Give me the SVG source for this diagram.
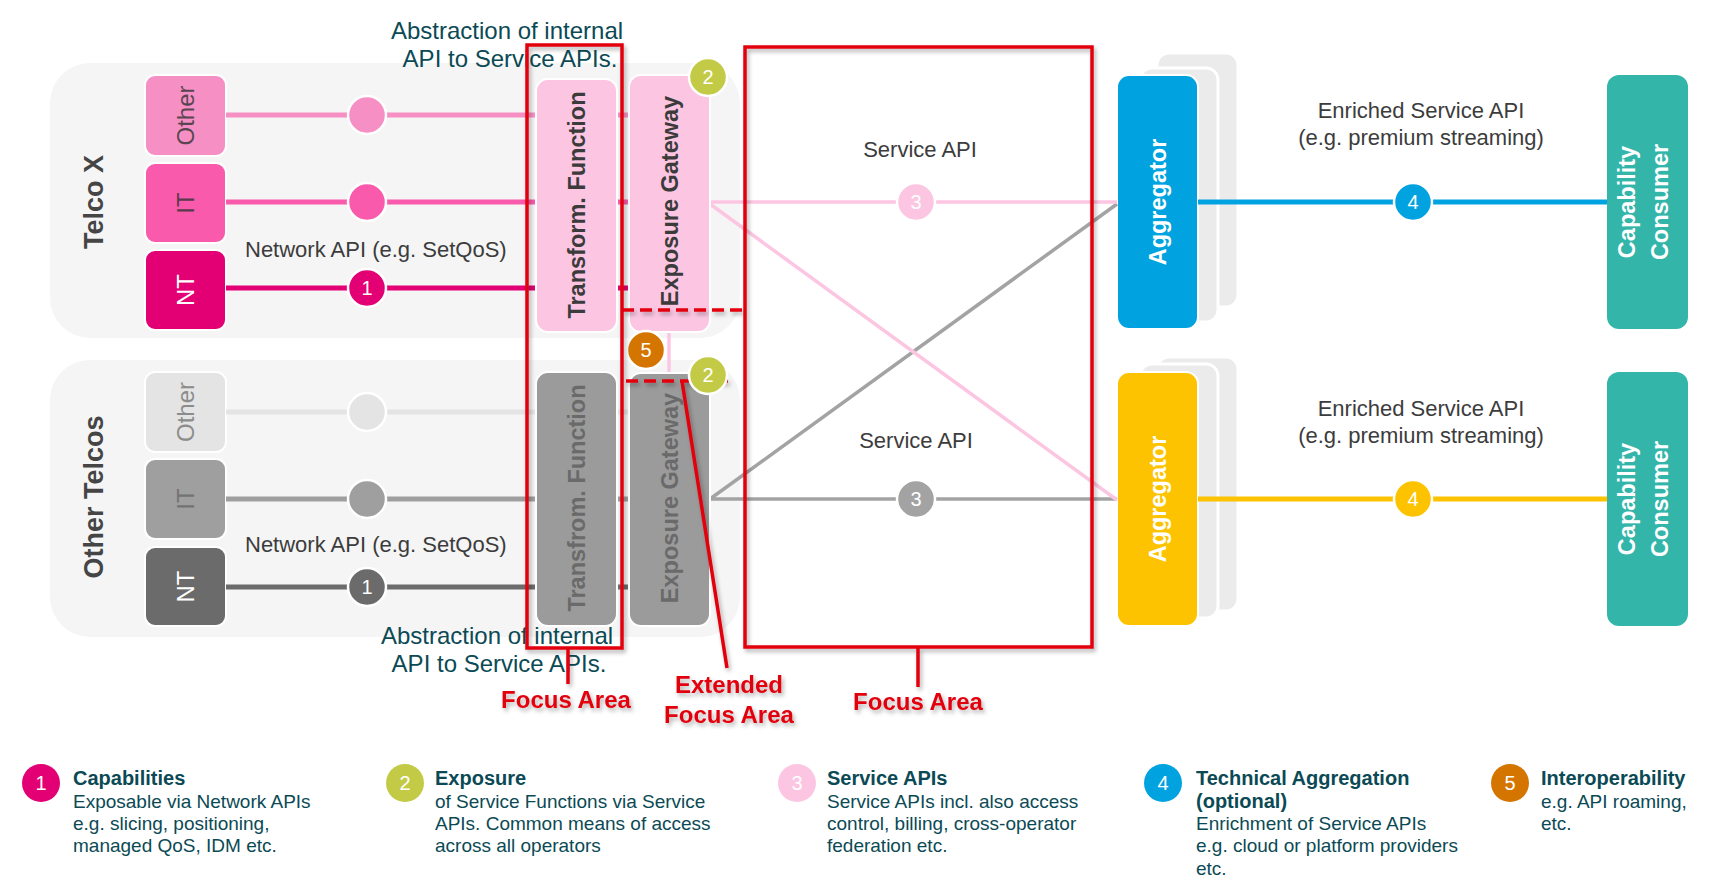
<svg xmlns="http://www.w3.org/2000/svg" width="1717" height="896" viewBox="0 0 1717 896">
<defs>
<style>
text{font-family:"Liberation Sans",Arial,sans-serif}
.panel{fill:#f5f5f5}
.box{stroke:#fff;stroke-width:2}
.lbl{font-size:24px;text-anchor:middle}
.vb{font-size:23.5px;font-weight:bold;text-anchor:middle}
.grp{font-size:27px;font-weight:bold;fill:#454545;text-anchor:middle}
.num{font-size:20px;fill:#fff;text-anchor:middle}
.cap{font-size:22px;fill:#3c3c3c}
.mid{text-anchor:middle}
.teal{font-size:24px;fill:#0b4a55;text-anchor:middle}
.red{stroke:#e3000f;stroke-width:3.5;fill:none}
.dash{stroke-dasharray:12 6}
.redt{font-size:24px;font-weight:bold;fill:#e3000f;text-anchor:middle}
.ln{stroke-width:5;fill:none}
.thin{stroke-width:3.5;fill:none}
.dot{stroke:#fff;stroke-width:2.5}
.card{fill:#ebebeb;stroke:#fff;stroke-width:3}
.lt{font-size:20px;font-weight:bold;fill:#0b4a55}
.lb{font-size:19px;fill:#0b4a55}
</style>
<filter id="sh" filterUnits="userSpaceOnUse" x="0" y="0" width="1717" height="896">
<feDropShadow dx="2" dy="3" stdDeviation="2" flood-color="#000" flood-opacity="0.3"/>
</filter>
</defs>
<rect width="1717" height="896" fill="#fff"/>

<g id="panels">
<rect class="panel" x="50" y="63" width="690" height="275" rx="40"/>
<rect class="panel" x="50" y="360" width="690" height="277" rx="40"/>
<text class="grp" transform="translate(93,202) rotate(-90)" y="10">Telco X</text>
<text class="grp" transform="translate(93,497) rotate(-90)" y="10">Other Telcos</text>
</g>

<g id="telco-x-other"><rect class="box" x="145" y="75" width="81" height="81" rx="10" fill="#f690c4"/><text class="lbl" transform="translate(185.5,115.5) rotate(-90)" y="8.5" fill="#5a4652">Other</text></g>
<g id="telco-x-it"><rect class="box" x="145" y="163" width="81" height="80" rx="10" fill="#fa5aab"/><text class="lbl" transform="translate(185.5,203) rotate(-90)" y="8.5" fill="#5a3a4e">IT</text></g>
<g id="telco-x-nt"><rect class="box" x="145" y="250" width="81" height="80" rx="10" fill="#e20074"/><text class="lbl" transform="translate(185.5,290) rotate(-90)" y="8.5" fill="#fff">NT</text></g>
<g id="other-telcos-other"><rect class="box" x="145" y="372" width="81" height="80" rx="10" fill="#e4e4e4"/><text class="lbl" transform="translate(185.5,412) rotate(-90)" y="8.5" fill="#8c8c8c">Other</text></g>
<g id="other-telcos-it"><rect class="box" x="145" y="459" width="81" height="80" rx="10" fill="#9f9f9f"/><text class="lbl" transform="translate(185.5,499) rotate(-90)" y="8.5" fill="#737373">IT</text></g>
<g id="other-telcos-nt"><rect class="box" x="145" y="547" width="81" height="79" rx="10" fill="#6b6b6b"/><text class="lbl" transform="translate(185.5,586.5) rotate(-90)" y="8.5" fill="#fff">NT</text></g>

<g id="aggregator-1">
<rect class="card" x="1157" y="53" width="81" height="254" rx="12"/>
<rect class="card" x="1140" y="68" width="78" height="254" rx="12"/>
<rect x="1117" y="75" width="81" height="254" rx="12" fill="#00a3e0" stroke="#fff" stroke-width="2"/>
<text class="vb" transform="translate(1157.5,202) rotate(-90)" y="8.5" fill="#fff" font-size="24">Aggregator</text>
</g>
<g id="aggregator-2">
<rect class="card" x="1157" y="357" width="81" height="254" rx="12"/>
<rect class="card" x="1140" y="364" width="78" height="254" rx="12"/>
<rect x="1117" y="372" width="81" height="254" rx="12" fill="#fdc300" stroke="#fff" stroke-width="2"/>
<text class="vb" transform="translate(1157.5,499) rotate(-90)" y="8.5" fill="#fff" font-size="24">Aggregator</text>
</g>

<g id="consumer-1"><rect x="1607" y="75" width="81" height="254" rx="12" fill="#33b5aa"/><text class="vb" transform="translate(1647.5,202) rotate(-90)" fill="#fff"><tspan x="0" y="-12.5">Capability</tspan><tspan x="0" y="20.5">Consumer</tspan></text></g>
<g id="consumer-2"><rect x="1607" y="372" width="81" height="254" rx="12" fill="#33b5aa"/><text class="vb" transform="translate(1647.5,499) rotate(-90)" fill="#fff"><tspan x="0" y="-12.5">Capability</tspan><tspan x="0" y="20.5">Consumer</tspan></text></g>

<g id="connectors">
<line class="ln" x1="226" y1="115" x2="631" y2="115" stroke="#f690c4"/>
<line class="ln" x1="226" y1="202" x2="631" y2="202" stroke="#fa5aab"/>
<line class="ln" x1="226" y1="288" x2="631" y2="288" stroke="#e20074"/>
<line class="ln" x1="226" y1="412" x2="631" y2="412" stroke="#e4e4e4"/>
<line class="ln" x1="226" y1="499" x2="631" y2="499" stroke="#9f9f9f"/>
<line class="ln" x1="226" y1="587" x2="631" y2="587" stroke="#6b6b6b"/>
<line class="thin" x1="710" y1="499" x2="1117" y2="499" stroke="#a3a3a3" stroke-width="4"/>
<line class="thin" x1="710" y1="499" x2="1117" y2="204" stroke="#a3a3a3"/>
<line class="thin" x1="710" y1="202" x2="1117" y2="202" stroke="#fcc6e2" stroke-width="4"/>
<line class="thin" x1="710" y1="204" x2="1117" y2="500" stroke="#fcc6e2"/>
<line class="thin" x1="669" y1="328" x2="669" y2="374" stroke="#fcc6e2" stroke-width="4"/>
<line class="ln" x1="1198" y1="202" x2="1607" y2="202" stroke="#00a3e0"/>
<line class="ln" x1="1198" y1="499" x2="1607" y2="499" stroke="#fdc300"/>
</g>

<g id="transform-telco-x"><rect class="box" x="536" y="79" width="81" height="253" rx="12" fill="#fcc6e2"/><text class="vb" transform="translate(576.5,205) rotate(-90)" y="8.5" fill="#3b3b3b">Transform. Function</text></g>
<g id="exposure-telco-x"><rect class="box" x="629" y="75" width="81" height="257" rx="12" fill="#fcc6e2"/><text class="vb" transform="translate(669.5,201) rotate(-90)" y="8.5" fill="#3b3b3b">Exposure Gateway</text></g>
<g id="transform-other"><rect class="box" x="536" y="372" width="81" height="254" rx="12" fill="#9b9b9b"/><text class="vb" transform="translate(576.5,498) rotate(-90)" y="8.5" fill="#6a6a6a">Transfrom. Function</text></g>
<g id="exposure-other"><rect class="box" x="629" y="373" width="81" height="253" rx="12" fill="#9b9b9b"/><text class="vb" transform="translate(669.5,498) rotate(-90)" y="8.5" fill="#6a6a6a">Exposure Gateway</text></g>

<g id="capability-dots">
<circle class="dot" cx="367" cy="115" r="19" fill="#f690c4"/>
<circle class="dot" cx="367" cy="202" r="19" fill="#fa5aab"/>
<circle class="dot" cx="367" cy="288" r="19" fill="#e20074"/><text class="num" x="367" y="295">1</text>
<circle class="dot" cx="367" cy="412" r="19" fill="#e4e4e4"/>
<circle class="dot" cx="367" cy="499" r="19" fill="#9f9f9f"/>
<circle class="dot" cx="367" cy="587" r="19" fill="#6b6b6b"/><text class="num" x="367" y="594">1</text>
<text class="cap" x="245" y="257">Network API (e.g. SetQoS)</text>
<text class="cap" x="245" y="552">Network API (e.g. SetQoS)</text>
</g>

<g id="abstraction-notes">
<text class="teal" x="507" y="39">Abstraction of internal</text>
<text class="teal" x="510" y="67">API to Service APIs.</text>
<text class="teal" x="497" y="644">Abstraction of internal</text>
<text class="teal" x="499" y="672">API to Service APIs.</text>
</g>

<g id="service-api-labels">
<text class="cap mid" x="920" y="157" font-size="23.5">Service API</text>
<text class="cap mid" x="916" y="448" font-size="23.5">Service API</text>
<circle class="dot" cx="916" cy="202" r="19" fill="#fcc6e2"/><text class="num" x="916" y="209">3</text>
<circle class="dot" cx="916" cy="499" r="19" fill="#a3a3a3"/><text class="num" x="916" y="506">3</text>
</g>

<g id="enriched-labels">
<text class="cap mid" x="1421" y="118" font-size="23">Enriched Service API</text>
<text class="cap mid" x="1421" y="145" font-size="21">(e.g. premium streaming)</text>
<text class="cap mid" x="1421" y="416" font-size="23">Enriched Service API</text>
<text class="cap mid" x="1421" y="443" font-size="21">(e.g. premium streaming)</text>
<circle class="dot" cx="1413" cy="202" r="19" fill="#00a3e0"/><text class="num" x="1413" y="209">4</text>
<circle class="dot" cx="1413" cy="499" r="19" fill="#fdc300"/><text class="num" x="1413" y="506">4</text>
</g>

<g id="interop-badges">
<circle class="dot" cx="646" cy="350" r="19" fill="#d47500"/><text class="num" x="646" y="357">5</text>
</g>

<g id="focus-areas" filter="url(#sh)">
<rect class="red" x="527" y="45" width="95" height="603"/>
<rect class="red" x="745" y="47" width="347" height="600"/>
<line class="red dash" x1="622" y1="310" x2="745" y2="310"/>
<line class="red dash" x1="626" y1="381" x2="731" y2="381"/>
<line class="red" x1="568" y1="648" x2="568" y2="684"/>
<line class="red" x1="918" y1="647" x2="918" y2="687"/>
<line class="red" x1="682" y1="381" x2="727" y2="668"/>
<text class="redt" x="566" y="708">Focus Area</text>
<text class="redt" x="729" y="693">Extended</text>
<text class="redt" x="729" y="723">Focus Area</text>
<text class="redt" x="918" y="710">Focus Area</text>
</g>

<g id="exposure-badges">
<circle class="dot" cx="708" cy="77" r="19" fill="#c3cb46"/><text class="num" x="708" y="84">2</text>
<circle class="dot" cx="708" cy="375" r="19" fill="#c3cb46"/><text class="num" x="708" y="382">2</text>
</g>

<g id="legend-1"><circle cx="41" cy="783" r="19" fill="#e20074"/><text class="num" x="41" y="790">1</text>
<text class="lt" x="73" y="785">Capabilities</text>
<text class="lb"><tspan x="73" y="808">Exposable via Network APIs</tspan><tspan x="73" y="830">e.g. slicing, positioning,</tspan><tspan x="73" y="852">managed  QoS, IDM etc.</tspan></text></g>
<g id="legend-2"><circle cx="405" cy="783" r="19" fill="#c3cb46"/><text class="num" x="405" y="790">2</text>
<text class="lt" x="435" y="785">Exposure</text>
<text class="lb"><tspan x="435" y="808">of Service Functions via Service</tspan><tspan x="435" y="830">APIs.  Common means of access</tspan><tspan x="435" y="852">across all operators</tspan></text></g>
<g id="legend-3"><circle cx="797" cy="783" r="19" fill="#fcc6e2"/><text class="num" x="797" y="790">3</text>
<text class="lt" x="827" y="785">Service APIs</text>
<text class="lb"><tspan x="827" y="808">Service APIs incl. also access</tspan><tspan x="827" y="830">control, billing, cross-operator</tspan><tspan x="827" y="852">federation etc.</tspan></text></g>
<g id="legend-4"><circle cx="1163" cy="783" r="19" fill="#00a3e0"/><text class="num" x="1163" y="790">4</text>
<text class="lt"><tspan x="1196" y="785">Technical Aggregation</tspan><tspan x="1196" y="808">(optional)</tspan></text>
<text class="lb"><tspan x="1196" y="830">Enrichment of Service APIs</tspan><tspan x="1196" y="852">e.g. cloud or platform providers</tspan><tspan x="1196" y="875">etc.</tspan></text></g>
<g id="legend-5"><circle cx="1510" cy="783" r="19" fill="#d47500"/><text class="num" x="1510" y="790">5</text>
<text class="lt" x="1541" y="785">Interoperability</text>
<text class="lb"><tspan x="1541" y="808">e.g.  API roaming,</tspan><tspan x="1541" y="830">etc.</tspan></text></g>
</svg>
